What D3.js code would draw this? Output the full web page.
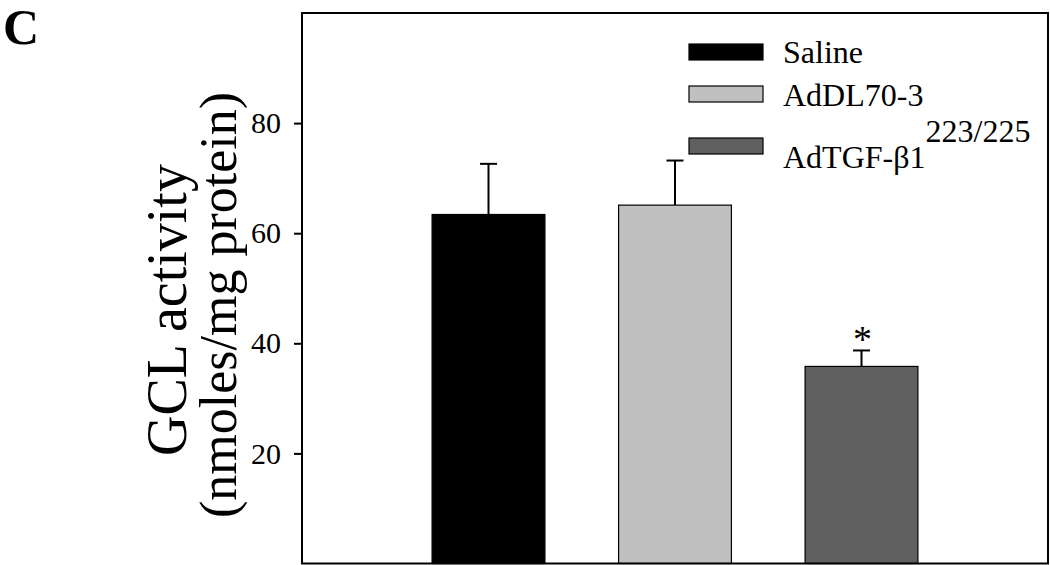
<!DOCTYPE html>
<html>
<head>
<meta charset="utf-8">
<script src="https://cdn.jsdelivr.net/npm/d3@7"></script>
<style>
  html, body { margin: 0; padding: 0; background: #fff; }
  svg { display: block; }
  text { font-family: "Liberation Serif", "DejaVu Serif", serif; fill: #000; }
</style>
</head>
<body>
<svg id="chart" width="1050" height="565"></svg>
<script>
// ---- data ----
const categories = ["Saline", "AdDL70-3", "AdTGF-β1"];
const means = [63.4, 65.1, 35.8];
const errors = [9.2, 8.1, 2.9];
const significant = [false, false, true];
const colors = ["#000000", "#c0c0c0", "#606060"];
const yTicks = [20, 40, 60, 80];
const legendLabels = ["Saline", "AdDL70-3", "AdTGF-β1"];
const legendSup = ["", "", "223/225"];

// ---- layout ----
const svg = d3.select("#chart");
const plot = { left: 302, right: 1048, top: 13, bottom: 563.5 };

const x = d3.scalePoint().domain(categories).range([plot.left, plot.right]).padding(1);
const y = d3.scaleLinear().domain([0, 100]).range([plot.bottom, plot.top]);
const barW = x.step() * 0.605;
const capW = 17;

// bars
svg.append("g").selectAll("rect").data(categories).join("rect")
  .attr("x", d => x(d) - barW / 2)
  .attr("y", (d, i) => y(means[i]))
  .attr("width", barW)
  .attr("height", (d, i) => y(0) - y(means[i]))
  .attr("fill", (d, i) => colors[i])
  .attr("stroke", "#000")
  .attr("stroke-width", 1.2);

// error bars (upper only)
const eg = svg.append("g").attr("stroke", "#000").attr("stroke-width", 2);
categories.forEach((c, i) => {
  eg.append("line").attr("x1", x(c)).attr("x2", x(c))
    .attr("y1", y(means[i])).attr("y2", y(means[i] + errors[i]));
  eg.append("line").attr("x1", x(c) - capW / 2).attr("x2", x(c) + capW / 2)
    .attr("y1", y(means[i] + errors[i])).attr("y2", y(means[i] + errors[i]));
});

// significance
categories.forEach((c, i) => {
  if (significant[i]) {
    svg.append("text").attr("x", x(c) + 1).attr("y", y(means[i] + errors[i]) + 2)
      .attr("text-anchor", "middle").style("font-size", "38px").text("*");
  }
});

// frame
svg.append("rect")
  .attr("x", plot.left).attr("y", plot.top)
  .attr("width", plot.right - plot.left).attr("height", plot.bottom - plot.top)
  .attr("fill", "none").attr("stroke", "#000").attr("stroke-width", 2);

// y axis
const yAxis = d3.axisLeft(y).tickValues(yTicks).tickSize(8).tickPadding(13).tickFormat(d3.format("d"));
const ga = svg.append("g").attr("transform", `translate(${plot.left},0)`).call(yAxis);
ga.select(".domain").remove();
ga.selectAll(".tick line").attr("stroke", "#000").attr("stroke-width", 2);
ga.selectAll(".tick text").style("font-size", "30px").attr("font-family", null);

// y titles
svg.append("text")
  .attr("transform", `translate(186, 310) rotate(-90)`)
  .attr("text-anchor", "middle")
  .style("font-size", "56px")
  .text("GCL activity");
svg.append("text")
  .attr("transform", `translate(236, 305) rotate(-90)`)
  .attr("text-anchor", "middle")
  .style("font-size", "52px")
  .text("(nmoles/mg protein)");

// panel letter
svg.append("text").attr("x", 3).attr("y", 44)
  .style("font-size", "50px").style("font-weight", "bold").text("C");

// legend
const legY = [44, 86, 138];
const legTextY = [63, 106, 168];
const lg = svg.append("g");
legendLabels.forEach((l, i) => {
  lg.append("rect").attr("x", 689).attr("y", legY[i]).attr("width", 74).attr("height", 16)
    .attr("fill", colors[i]).attr("stroke", "#000").attr("stroke-width", 1.2);
  const t = lg.append("text").attr("x", 783).attr("y", legTextY[i]).style("font-size", "32px").text(l);
  if (legendSup[i]) {
    t.append("tspan").attr("dy", -26).style("font-size", "32px").text(legendSup[i]);
  }
});
</script>
</body>
</html>
